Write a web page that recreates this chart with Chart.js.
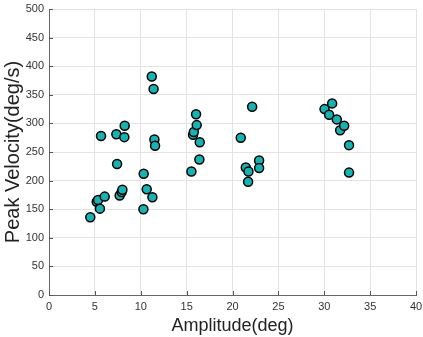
<!DOCTYPE html>
<html>
<head>
<meta charset="utf-8">
<script src="https://cdn.jsdelivr.net/npm/chart.js@4"></script>
<style>
  html, body { margin: 0; padding: 0; background: #fff; }
  #wrap { width: 423px; height: 337px; }
</style>
</head>
<body>
<div id="wrap"><canvas id="peakChart" width="423" height="337"></canvas></div>
<script>
// 振幅 (deg)
const amplitude = [
  4.5, 5.2, 5.35, 5.55, 5.67, 6.07, 7.34, 7.42, 7.7, 7.92, 8.0, 8.21, 8.25,
  10.29, 10.32, 10.65, 11.2, 11.27, 11.4, 11.49, 11.56,
  15.52, 15.7, 15.78, 16.03, 16.1, 16.39, 16.43,
  20.9, 21.45, 21.7, 21.74, 22.14, 22.9, 22.9,
  30.03, 30.53, 30.86, 31.37, 31.73, 32.17, 32.7, 32.7
];
// ピーク速度 (deg/s)
const peakVelocity = [
  136, 163, 166, 151, 278, 172, 281, 229, 174, 180, 184, 276, 296,
  150, 212, 185, 382, 171, 360, 272, 261,
  216, 280, 285, 316, 297, 237, 267,
  275, 223, 198, 216, 329, 235, 222,
  325, 315, 335, 307, 288, 296, 262, 214
];
const xTicks = [0, 5, 10, 15, 20, 25, 30, 35, 40];
const yTicks = [0, 50, 100, 150, 200, 250, 300, 350, 400, 450, 500];

const points = amplitude.map((x, i) => ({ x: x, y: peakVelocity[i] }));

// 内向きの目盛り
const innerTicks = {
  id: "innerTicks",
  afterDraw(chart) {
    const c = chart.ctx;
    const a = chart.chartArea;
    const xs = chart.scales.x;
    const ys = chart.scales.y;
    c.save();
    c.strokeStyle = "#555";
    c.lineWidth = 1;
    c.beginPath();
    xTicks.forEach((t) => {
      const px = Math.round(xs.getPixelForValue(t)) + 0.5;
      c.moveTo(px, a.bottom);
      c.lineTo(px, a.bottom - 4);
    });
    yTicks.forEach((t) => {
      const py = Math.round(ys.getPixelForValue(t)) + 0.5;
      c.moveTo(a.left, py);
      c.lineTo(a.left + 4, py);
    });
    c.stroke();
    c.restore();
  },
};

const ctx = document.getElementById("peakChart").getContext("2d");
new Chart(ctx, {
  type: "scatter",
  data: {
    datasets: [
      {
        data: points,
        backgroundColor: "#17b3b3",
        borderColor: "#000",
        borderWidth: 1.5,
        pointRadius: 4.5,
        pointHoverRadius: 4.5,
      },
    ],
  },
  options: {
    responsive: false,
    animation: false,
    layout: { padding: { top: 9, right: 7, left: 0, bottom: 0 } },
    plugins: { legend: { display: false }, tooltip: { enabled: false } },
    scales: {
      x: {
        type: "linear",
        min: 0,
        max: 40,
        afterBuildTicks: (s) => { s.ticks = xTicks.map((v) => ({ value: v })); },
        afterFit: (s) => { s.height = 42; s.paddingRight = 0; s.paddingLeft = 0; },
        grid: { color: "#e3e3e3", tickLength: 0 },
        border: { color: "#666" },
        ticks: { color: "#333", font: { family: "Liberation Sans", size: 11 }, padding: 5, maxRotation: 0 },
        title: {
          display: true,
          text: "Amplitude(deg)",
          color: "#222",
          font: { family: "Liberation Sans", size: 18 },
          padding: { top: 3, bottom: 0 },
        },
      },
      y: {
        type: "linear",
        min: 0,
        max: 500,
        afterBuildTicks: (s) => { s.ticks = yTicks.map((v) => ({ value: v })); },
        afterFit: (s) => { s.width = 49; s.paddingTop = 0; s.paddingBottom = 0; },
        grid: { color: "#e3e3e3", tickLength: 0 },
        border: { color: "#666" },
        ticks: { color: "#333", font: { family: "Liberation Sans", size: 11 }, padding: 5 },
        title: {
          display: true,
          text: "Peak Velocity(deg/s)",
          color: "#222",
          font: { family: "Liberation Sans", size: 20 },
          padding: { top: 1, bottom: 1 },
        },
      },
    },
  },
  plugins: [innerTicks],
});
</script>
</body>
</html>
